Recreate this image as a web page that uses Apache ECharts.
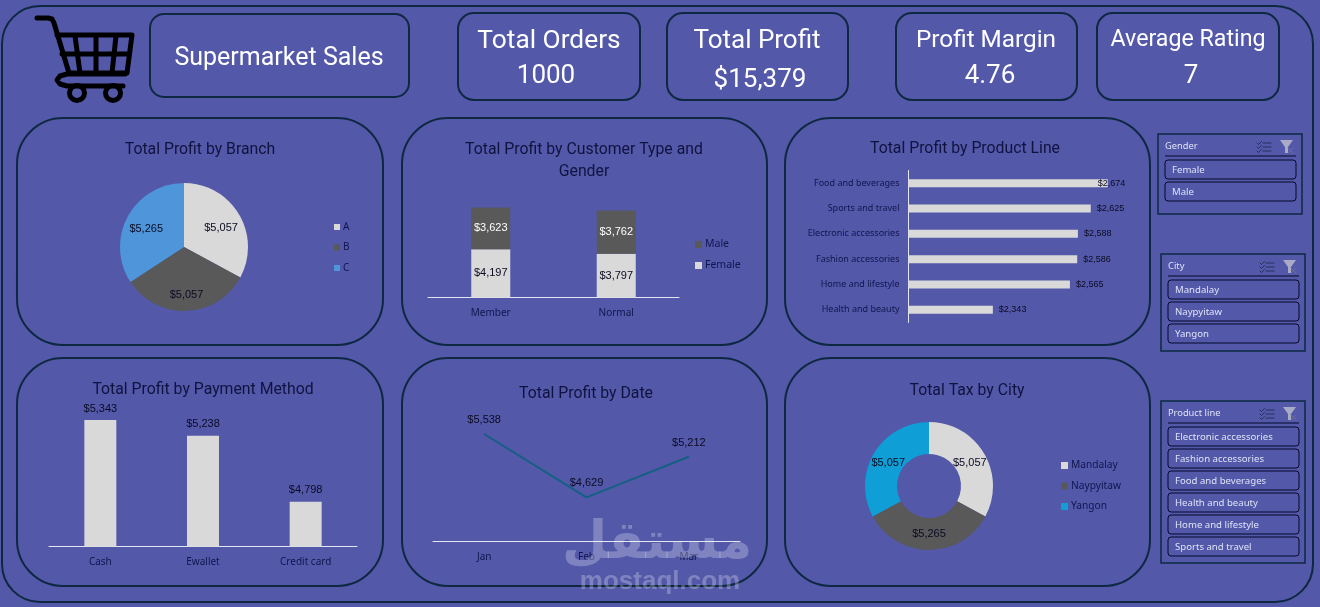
<!DOCTYPE html>
<html><head><meta charset="utf-8">
<style>html,body{margin:0;padding:0;background:#5358A9}#c{width:1320px;height:607px}</style>
<script src="https://cdn.jsdelivr.net/npm/echarts@6/dist/echarts.min.js"></script>
</head><body><div id="c"></div>
<script>
const branchNames = ['A','B','C'];
const branchProfit = [5057,5057,5265];
const customerTypes = ['Member','Normal'];
const femaleProfit = [4197,3797];
const maleProfit = [3623,3762];
const productLines = ['Food and beverages','Sports and travel','Electronic accessories','Fashion accessories','Home and lifestyle','Health and beauty'];
const productProfit = [2674,2625,2588,2586,2565,2343];
const paymentMethods = ['Cash','Ewallet','Credit card'];
const paymentProfit = [5343,5238,4798];
const months = ['Jan','Feb','Mar'];
const monthProfit = [5538,4629,5212];
const cities = ['Mandalay','Naypyitaw','Yangon'];
const cityTax = [5057,5265,5057];
const genderItems = ['Female','Male'];
const cityItems = ['Mandalay','Naypyitaw','Yangon'];
const productItems = ['Electronic accessories','Fashion accessories','Food and beverages','Health and beauty','Home and lifestyle','Sports and travel'];

const LINE='#0E2841', DARK='#10133F', TICK='#12164F', WHITE='#FFFFFF', SL='#DDE3F7';
const UI='"Noto Sans"', NUM='"Liberation Sans"', HEAD='Roboto';
const money = v => '$' + v.toLocaleString('en-US');
const fmt = p => money(p.value);

const g = [];
function box(x,y,w,h,r,lw){ g.push({type:'rect',shape:{x,y,width:w,height:h,r},style:{fill:'none',stroke:LINE,lineWidth:lw||2}}); }
function txt(text,x,y,size,color,align,weight,font,op){ g.push({type:'text',x,y,style:{text,fill:color,fontSize:size,fontFamily:font||UI,align:align||'center',verticalAlign:'middle',fontWeight:weight||'normal',opacity:op==null?1:op}}); }
function pl(points,stroke,lw){ g.push({type:'polyline',shape:{points},style:{fill:'none',stroke,lineWidth:lw,lineCap:'round',lineJoin:'round'}}); }
box(2,6,1311,596,38);
box(150,14,259,83,14);
box(458,13,182,87,16); box(667,13,181,87,16); box(896,13,181,87,16); box(1097,13,182,87,16);
[[17,118,366,227],[402,118,365,227],[785,118,365,227],[17,358,366,228],[402,358,365,228],[785,358,365,228]].forEach(a=>box(a[0],a[1],a[2],a[3],46));

txt('Supermarket Sales',279,59,25,WHITE,'center','normal',HEAD);
txt('Total Orders',549,41.5,26.3,WHITE,'center','normal',HEAD); txt('1000',546,76.5,26,WHITE,'center','normal',HEAD);
txt('Total Profit',757,41.5,26,WHITE,'center','normal',HEAD); txt('$15,379',760,80.5,26,WHITE,'center','normal',HEAD);
txt('Profit Margin',986,40.5,24.3,WHITE,'center','normal',HEAD); txt('4.76',990,76.5,26,WHITE,'center','normal',HEAD);
txt('Average Rating',1188,40.5,23.2,WHITE,'center','normal',HEAD); txt('7',1191,76.5,26,WHITE,'center','normal',HEAD);

// shopping cart icon
const K='#000';
pl([[37,18],[48,18],[52,19],[54,23],[69,73]],K,5);
pl([[57,35],[132,35],[127,73],[69,73]],K,5);
pl([[62,54],[129,54]],K,5);
pl([[75,36],[80,73]],K,5); pl([[96,36],[96,73]],K,5); pl([[116,36],[112,73]],K,5);
pl([[125,74],[67,74],[60,76],[57,80],[60,84],[67,86],[123,86]],K,5);
[77,113].forEach(cx=>g.push({type:'circle',shape:{cx,cy:93,r:7.5},style:{fill:'none',stroke:K,lineWidth:5}}));

function slicer(x,y,w,h,title,items){
  box(x,y,w,h,0,1.5);
  const ix=x+7, iw=w-13;
  txt(title,ix,y+12,9.3,SL,'left');
  g.push({type:'line',shape:{x1:ix,y1:y+22,x2:ix+iw,y2:y+22},style:{stroke:'#05082A',lineWidth:1}});
  const ax=x+99, ay=y+6;
  [3,7,11].forEach(d=>{
    pl([[ax,ay+d],[ax+1.5,ay+d+1.5],[ax+4.5,ay+d-1.5]],'#2A2E60',1);
    pl([[ax+6,ay+d],[ax+14,ay+d]],'#2A2E60',1);
  });
  const fx=x+122;
  g.push({type:'polygon',shape:{points:[[fx,ay],[fx+13,ay],[fx+8,ay+7],[fx+8,ay+13],[fx+5,ay+13],[fx+5,ay+7]]},style:{fill:'#A9ABC6'}});
  pl([[fx+8,ay+8],[fx+13,ay+13]],'#6B6F9A',1); pl([[fx+13,ay+8],[fx+8,ay+13]],'#6B6F9A',1);
  items.forEach((t,i)=>{
    const iy=y+26+i*22;
    g.push({type:'rect',shape:{x:ix,y:iy,width:iw,height:19,r:3},style:{fill:'none',stroke:'#05082A',lineWidth:1}});
    txt(t,ix+7,iy+10.5,9.6,SL,'left');
  });
}
slicer(1158,134,144,80,'Gender',genderItems);
slicer(1161,254,144,97,'City',cityItems);
slicer(1161,401,144,162,'Product line',productItems);

// watermark
const wm=[];
wm.push({type:'text',x:657,y:544,z:100,style:{text:'مستقل',fill:'rgba(255,255,255,0.26)',fontSize:52,fontWeight:'bold',fontFamily:'"DejaVu Sans"',align:'center',verticalAlign:'middle'}});
wm.push({type:'text',x:660,y:582,z:100,style:{text:'mostaql.com',fill:'rgba(255,255,255,0.26)',fontSize:26,fontWeight:'bold',fontFamily:'"Liberation Sans"',align:'center',verticalAlign:'middle'}});

const ts={color:DARK,fontSize:15.8,fontFamily:HEAD,fontWeight:'normal',lineHeight:22};
const title=(text,left,top)=>({text,left,top,textAlign:'center',textStyle:ts,padding:0});
const legendBase=(data,left,top,gap,sz,fs)=>({data,left,top,orient:'vertical',icon:'rect',itemWidth:sz,itemHeight:sz,itemGap:gap,selectedMode:false,padding:0,textStyle:{color:TICK,fontSize:fs,fontFamily:UI,padding:[0,0,0,-2]}});
const catAxis=(gi,data,margin,fs)=>({type:'category',gridIndex:gi,data,axisTick:{show:false},axisLine:{show:true,lineStyle:{color:'#E4E6F2',width:1}},axisLabel:{color:TICK,fontSize:fs,fontFamily:UI,margin,interval:0}});
const valAxis=(gi,min,max,interval)=>({type:'value',gridIndex:gi,min,max,interval,show:false,splitLine:{show:false}});
const pieOff=[[7,-1],[1,13],[-7,-1]];
const donutOff=[[-3,3],[0,-3],[3,3]];

const option={
  backgroundColor:'#5358A9',animation:false,
  title:[title('Total Profit by Branch',200,139),title('Total Profit by Customer Type and\nGender',584,139),title('Total Profit by Product Line',965,138),title('Total Profit by Payment Method',203,379),title('Total Profit by Date',586,383),title('Total Tax by City',967,380)],
  legend:[legendBase(branchNames,334,222,10.5,6,10),legendBase(['Male','Female'],695,239,10,7,10.5),legendBase(cities,1061,460.5,10.5,7,10.2)],
  grid:[
    {left:428,top:194,width:251,height:103.5},
    {left:908.5,top:170.5,width:243,height:152},
    {left:49,top:396.5,width:308,height:150},
    {left:433,top:401.8,width:307,height:139.5}
  ],
  xAxis:[catAxis(0,customerTypes,11,10),valAxis(1,2100,2800,100),catAxis(2,paymentMethods,11,10),catAxis(3,months,11,10)],
  yAxis:[valAxis(0,0,9000,1000),Object.assign(catAxis(1,productLines,9,9),{inverse:true}),valAxis(2,4500,5500,100),valAxis(3,4000,6000,500)],
  series:[
    {type:'pie',name:'Branch',center:[184,247],radius:[0,64],startAngle:90,clockwise:true,silent:true,
      data:branchNames.map((name,i)=>({name,value:branchProfit[i],itemStyle:{color:['#D9D9D9','#595959','#4E95D9'][i]}})),
      label:{show:true,position:'inside',formatter:fmt,color:'#0B0B22',fontSize:11,fontFamily:NUM},labelLine:{show:false},
      labelLayout:p=>({dx:pieOff[p.dataIndex][0],dy:pieOff[p.dataIndex][1]})},
    {type:'bar',name:'Female',stack:'c',xAxisIndex:0,yAxisIndex:0,data:femaleProfit,barWidth:39,itemStyle:{color:'#D9D9D9'},
      label:{show:true,position:'inside',formatter:fmt,color:'#0B0B22',fontSize:11,fontFamily:NUM}},
    {type:'bar',name:'Male',stack:'c',xAxisIndex:0,yAxisIndex:0,data:maleProfit,barWidth:39,itemStyle:{color:'#595959'},
      label:{show:true,position:'inside',formatter:fmt,color:'#FFFFFF',fontSize:11,fontFamily:NUM}},
    {type:'bar',name:'Product',xAxisIndex:1,yAxisIndex:1,barWidth:8,itemStyle:{color:'#D9D9D9'},
      data:productProfit.map((v,i)=>i===0?{value:v,label:{offset:[-16,0]}}:v),
      label:{show:true,position:'right',distance:6,formatter:fmt,color:'#0B0B22',fontSize:9,fontFamily:NUM}},
    {type:'bar',name:'Payment',xAxisIndex:2,yAxisIndex:2,barWidth:32,itemStyle:{color:'#D9D9D9'},data:paymentProfit,
      label:{show:true,position:'top',distance:6,formatter:fmt,color:'#0B0B22',fontSize:11,fontFamily:NUM}},
    {type:'line',name:'Date',xAxisIndex:3,yAxisIndex:3,data:monthProfit,symbol:'circle',symbolSize:1,showSymbol:true,itemStyle:{color:'#156082'},lineStyle:{color:'#156082',width:2},
      label:{show:true,position:'top',distance:8,formatter:fmt,color:'#0B0B22',fontSize:11,fontFamily:NUM},z:3},
    {type:'pie',name:'Tax',center:[929,486],radius:[32,64],startAngle:90,clockwise:true,silent:true,
      data:cities.map((name,i)=>({name,value:cityTax[i],itemStyle:{color:['#D9D9D9','#595959','#0F9ED5'][i]}})),
      label:{show:true,position:'inside',formatter:fmt,color:'#0B0B22',fontSize:11,fontFamily:NUM},labelLine:{show:false},
      labelLayout:p=>({dx:donutOff[p.dataIndex][0],dy:donutOff[p.dataIndex][1]})}
  ],
  graphic:{elements:g.concat(wm)}
};
echarts.init(document.getElementById('c'),null,{renderer:'canvas'}).setOption(option);
</script></body></html>
